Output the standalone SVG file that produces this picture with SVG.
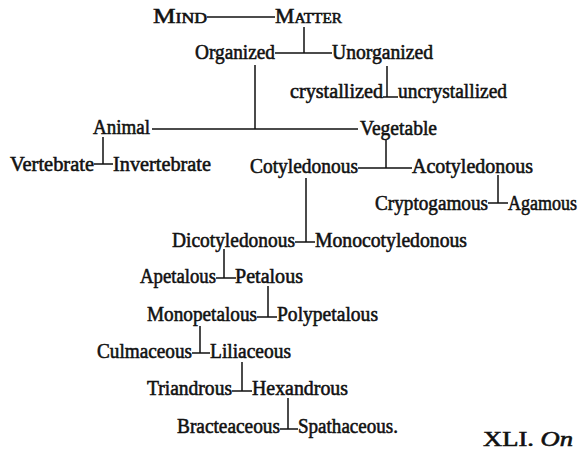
<svg xmlns="http://www.w3.org/2000/svg" width="584" height="459" viewBox="0 0 584 459">
<style>
text{font-family:"Liberation Serif","Times New Roman",serif;font-size:20px;fill:#111;stroke:#111;stroke-width:0.55;}
.sc{font-variant:small-caps;}
#connectors path{stroke:#111;stroke-width:1.5;fill:none;}
</style>
<rect width="584" height="459" fill="#fff"/>
<g id="connectors">
<path d="M207 17H275"/>
<path d="M304 27V53M275 53H332"/>
<path d="M387 66V97M383 97H398"/>
<path d="M255 65V129M152 129H358"/>
<path d="M103 137V164M94 164H113"/>
<path d="M386 140V168M358 168H412"/>
<path d="M498 175V203M488 203H508"/>
<path d="M306 178V242M295 242H315"/>
<path d="M224 249V278M216 278H236"/>
<path d="M268 286V317M257 317H277"/>
<path d="M200 326V353M192 353H210"/>
<path d="M242 362V391M232 391H252"/>
<path d="M288 398V429M280 429H298"/>
</g>
<g id="mind"><text x="153" y="23" class="sc" textLength="54" lengthAdjust="spacingAndGlyphs">Mind</text></g>
<g id="matter"><text x="275" y="23" class="sc" textLength="67" lengthAdjust="spacingAndGlyphs">Matter</text></g>
<g id="organized"><text x="195" y="59" textLength="80" lengthAdjust="spacingAndGlyphs">Organized</text></g>
<g id="unorganized"><text x="332" y="59" textLength="101" lengthAdjust="spacingAndGlyphs">Unorganized</text></g>
<g id="crystallized"><text x="290" y="98" textLength="93" lengthAdjust="spacingAndGlyphs">crystallized</text></g>
<g id="uncrystallized"><text x="398" y="98" textLength="109" lengthAdjust="spacingAndGlyphs">uncrystallized</text></g>
<g id="animal"><text x="93" y="134" textLength="57" lengthAdjust="spacingAndGlyphs">Animal</text></g>
<g id="vegetable"><text x="360" y="135" textLength="77" lengthAdjust="spacingAndGlyphs">Vegetable</text></g>
<g id="vertebrate"><text x="10" y="171" textLength="84" lengthAdjust="spacingAndGlyphs">Vertebrate</text></g>
<g id="invertebrate"><text x="113" y="171" textLength="98" lengthAdjust="spacingAndGlyphs">Invertebrate</text></g>
<g id="cotyledonous"><text x="250" y="173" textLength="108" lengthAdjust="spacingAndGlyphs">Cotyledonous</text></g>
<g id="acotyledonous"><text x="412" y="173" textLength="121" lengthAdjust="spacingAndGlyphs">Acotyledonous</text></g>
<g id="cryptogamous"><text x="375" y="210" textLength="113" lengthAdjust="spacingAndGlyphs">Cryptogamous</text></g>
<g id="agamous"><text x="508" y="210" textLength="69" lengthAdjust="spacingAndGlyphs">Agamous</text></g>
<g id="dicotyledonous"><text x="172" y="247" textLength="123" lengthAdjust="spacingAndGlyphs">Dicotyledonous</text></g>
<g id="monocotyledonous"><text x="315" y="247" textLength="152" lengthAdjust="spacingAndGlyphs">Monocotyledonous</text></g>
<g id="apetalous"><text x="140" y="283" textLength="76" lengthAdjust="spacingAndGlyphs">Apetalous</text></g>
<g id="petalous"><text x="235" y="283" textLength="68" lengthAdjust="spacingAndGlyphs">Petalous</text></g>
<g id="monopetalous"><text x="147" y="321" textLength="110" lengthAdjust="spacingAndGlyphs">Monopetalous</text></g>
<g id="polypetalous"><text x="277" y="321" textLength="101" lengthAdjust="spacingAndGlyphs">Polypetalous</text></g>
<g id="culmaceous"><text x="97" y="358" textLength="95" lengthAdjust="spacingAndGlyphs">Culmaceous</text></g>
<g id="liliaceous"><text x="210" y="358" textLength="81" lengthAdjust="spacingAndGlyphs">Liliaceous</text></g>
<g id="triandrous"><text x="147" y="395" textLength="85" lengthAdjust="spacingAndGlyphs">Triandrous</text></g>
<g id="hexandrous"><text x="252" y="395" textLength="96" lengthAdjust="spacingAndGlyphs">Hexandrous</text></g>
<g id="bracteaceous"><text x="177" y="433" textLength="103" lengthAdjust="spacingAndGlyphs">Bracteaceous</text></g>
<g id="spathaceous"><text x="298" y="433" textLength="100" lengthAdjust="spacingAndGlyphs">Spathaceous.</text></g>
<g id="caption"><text x="483" y="446" font-size="22" textLength="90" lengthAdjust="spacingAndGlyphs">XLI.  <tspan font-style="italic">On</tspan></text></g>
</svg>
